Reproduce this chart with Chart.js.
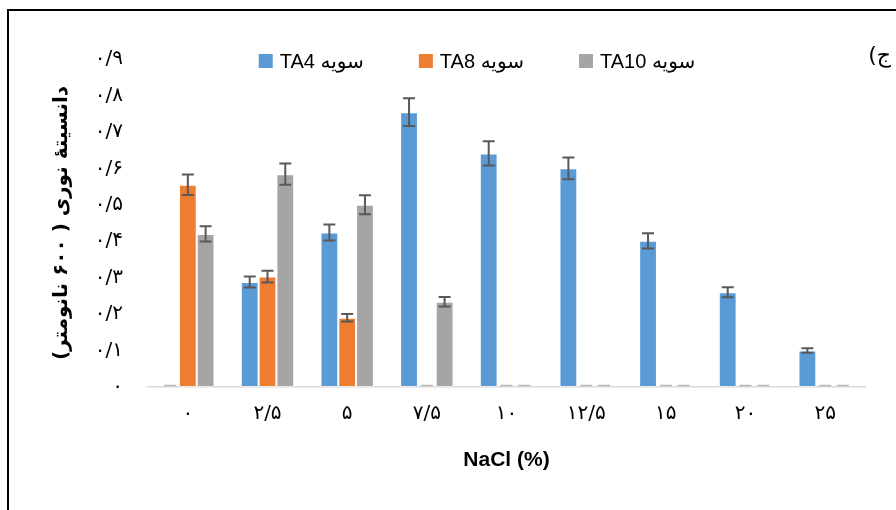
<!DOCTYPE html>
<html>
<head>
<meta charset="utf-8">
<script src="https://cdn.jsdelivr.net/npm/chart.js@4/dist/chart.umd.min.js"></script>
<style>
  html, body { margin: 0; padding: 0; background: #fff; }
  #wrap { position: relative; width: 896px; height: 510px; overflow: hidden; }
  #frame { position: absolute; left: 7px; top: 9px; width: 1000px; height: 1000px;
           border-top: 2.5px solid #000; border-left: 2.5px solid #000; box-sizing: border-box; }
  canvas { position: absolute; left: 0; top: 0; }
</style>
</head>
<body>
<div id="wrap">
  <div id="frame"></div>
  <canvas id="chart" width="896" height="510"></canvas>
</div>
<script>
// NaCl concentrations (%)
const categories = ['۰', '۲/۵', '۵', '۷/۵', '۱۰', '۱۲/۵', '۱۵', '۲۰', '۲۵'];

// Optical density at 600 nm, mean and error per strain
const ta4     = [0, 0.288, 0.424, 0.754, 0.641, 0.600, 0.401, 0.260, 0.100];
const ta4Err  = [0, 0.015, 0.022, 0.038, 0.033, 0.030, 0.021, 0.014, 0.006];
const ta8     = [0.555, 0.303, 0.190, 0, 0, 0, 0, 0, 0];
const ta8Err  = [0.028, 0.016, 0.010, 0, 0, 0, 0, 0, 0];
const ta10    = [0.420, 0.584, 0.500, 0.234, 0, 0, 0, 0, 0];
const ta10Err = [0.021, 0.029, 0.026, 0.013, 0, 0, 0, 0, 0];

const seriesNames = ['TA4 سویه', 'TA8 سویه', 'TA10 سویه'];
const yTickLabels = ['۰', '۰/۱', '۰/۲', '۰/۳', '۰/۴', '۰/۵', '۰/۶', '۰/۷', '۰/۸', '۰/۹'];

const colors = ['#5b9bd5', '#ed7d31', '#a5a5a5'];
const errors = [ta4Err, ta8Err, ta10Err];

const LATIN = "'Liberation Sans', 'DejaVu Sans', sans-serif";
const PERSIAN = "'DejaVu Sans', sans-serif";

// Error bars drawn through the value scale
const errorBars = {
  id: 'errorBars',
  afterDatasetsDraw(chart) {
    const ctx = chart.ctx;
    const y = chart.scales.y;
    ctx.save();
    chart.data.datasets.forEach((ds, di) => {
      const meta = chart.getDatasetMeta(di);
      meta.data.forEach((bar, i) => {
        const v = ds.data[i];
        const e = errors[di][i];
        const x = bar.x;
        const half = 6;
        if (v === 0) {
          const py = y.getPixelForValue(0) - 1.5;
          ctx.strokeStyle = '#b8b8b8';
          ctx.lineWidth = 1.5;
          ctx.beginPath();
          ctx.moveTo(x - half, py);
          ctx.lineTo(x + half, py);
          ctx.stroke();
          return;
        }
        const top = y.getPixelForValue(v + e);
        const bot = y.getPixelForValue(v - e);
        ctx.strokeStyle = '#595959';
        ctx.lineWidth = 2;
        ctx.beginPath();
        ctx.moveTo(x, top); ctx.lineTo(x, bot);
        ctx.moveTo(x - half, top); ctx.lineTo(x + half, top);
        ctx.moveTo(x - half, bot); ctx.lineTo(x + half, bot);
        ctx.stroke();
      });
    });
    ctx.restore();
  }
};

// Legend row and panel letter
const extras = {
  id: 'extras',
  afterDraw(chart) {
    const ctx = chart.ctx;
    ctx.save();
    ctx.font = '20px ' + LATIN;
    ctx.textBaseline = 'middle';
    ctx.textAlign = 'left';
    const box = 14, gapBox = 7, gapItem = 55;
    const widths = seriesNames.map(t => box + gapBox + ctx.measureText(t).width);
    const total = widths.reduce((a, b) => a + b, 0) + gapItem * (widths.length - 1);
    let x = 477 - total / 2;
    const cy = 61;
    seriesNames.forEach((t, i) => {
      ctx.fillStyle = colors[i];
      ctx.fillRect(x, cy - box / 2, box, box);
      ctx.fillStyle = '#000';
      ctx.fillText(t, x + box + gapBox, cy + 1);
      x += widths[i] + gapItem;
    });
    ctx.font = '22px ' + PERSIAN;
    ctx.textAlign = 'right';
    ctx.fillText('\u202Bج)\u202C', 891, 56);
    ctx.restore();
  }
};

new Chart(document.getElementById('chart'), {
  type: 'bar',
  data: {
    labels: categories,
    datasets: [
      { label: seriesNames[0], data: ta4, backgroundColor: colors[0] },
      { label: seriesNames[1], data: ta8, backgroundColor: colors[1] },
      { label: seriesNames[2], data: ta10, backgroundColor: colors[2] }
    ]
  },
  options: {
    responsive: false,
    animation: false,
    devicePixelRatio: 1,
    layout: { padding: { left: 38, top: 59, right: 31, bottom: 28 } },
    datasets: {
      bar: {
        categoryPercentage: 0.67,
        barPercentage: 1,
        borderWidth: 1,
        borderColor: 'rgba(255,255,255,0.45)',
        borderSkipped: false
      }
    },
    plugins: {
      legend: { display: false },
      tooltip: { enabled: false }
    },
    scales: {
      x: {
        grid: { display: false, drawTicks: false },
        border: { display: true, color: '#d9d9d9', width: 1.5 },
        ticks: { color: '#000', font: { family: PERSIAN, size: 20 }, padding: 15 },
        title: {
          display: true, text: 'NaCl (%)', color: '#000',
          font: { family: LATIN, size: 21, weight: 'bold' }, padding: { top: 0, bottom: 9 }
        },
        afterFit(s) { s.height = 510 - 28 - 387; }
      },
      y: {
        min: 0, max: 0.9,
        grid: { display: false, drawTicks: false },
        border: { display: false },
        ticks: {
          stepSize: 0.1, color: '#000', padding: 25,
          font: { family: PERSIAN, size: 20 },
          callback: (v, i) => yTickLabels[i]
        },
        title: {
          display: true, text: '\u202Bدانسیتهٔ نوری ( ۶۰۰ نانومتر)\u202C', color: '#000',
          font: { family: PERSIAN, size: 20, weight: 'bold' }, padding: { top: 12, bottom: 0 }
        },
        afterFit(s) { s.width = 148 - 38; }
      }
    }
  },
  plugins: [errorBars, extras]
});
</script>
</body>
</html>
